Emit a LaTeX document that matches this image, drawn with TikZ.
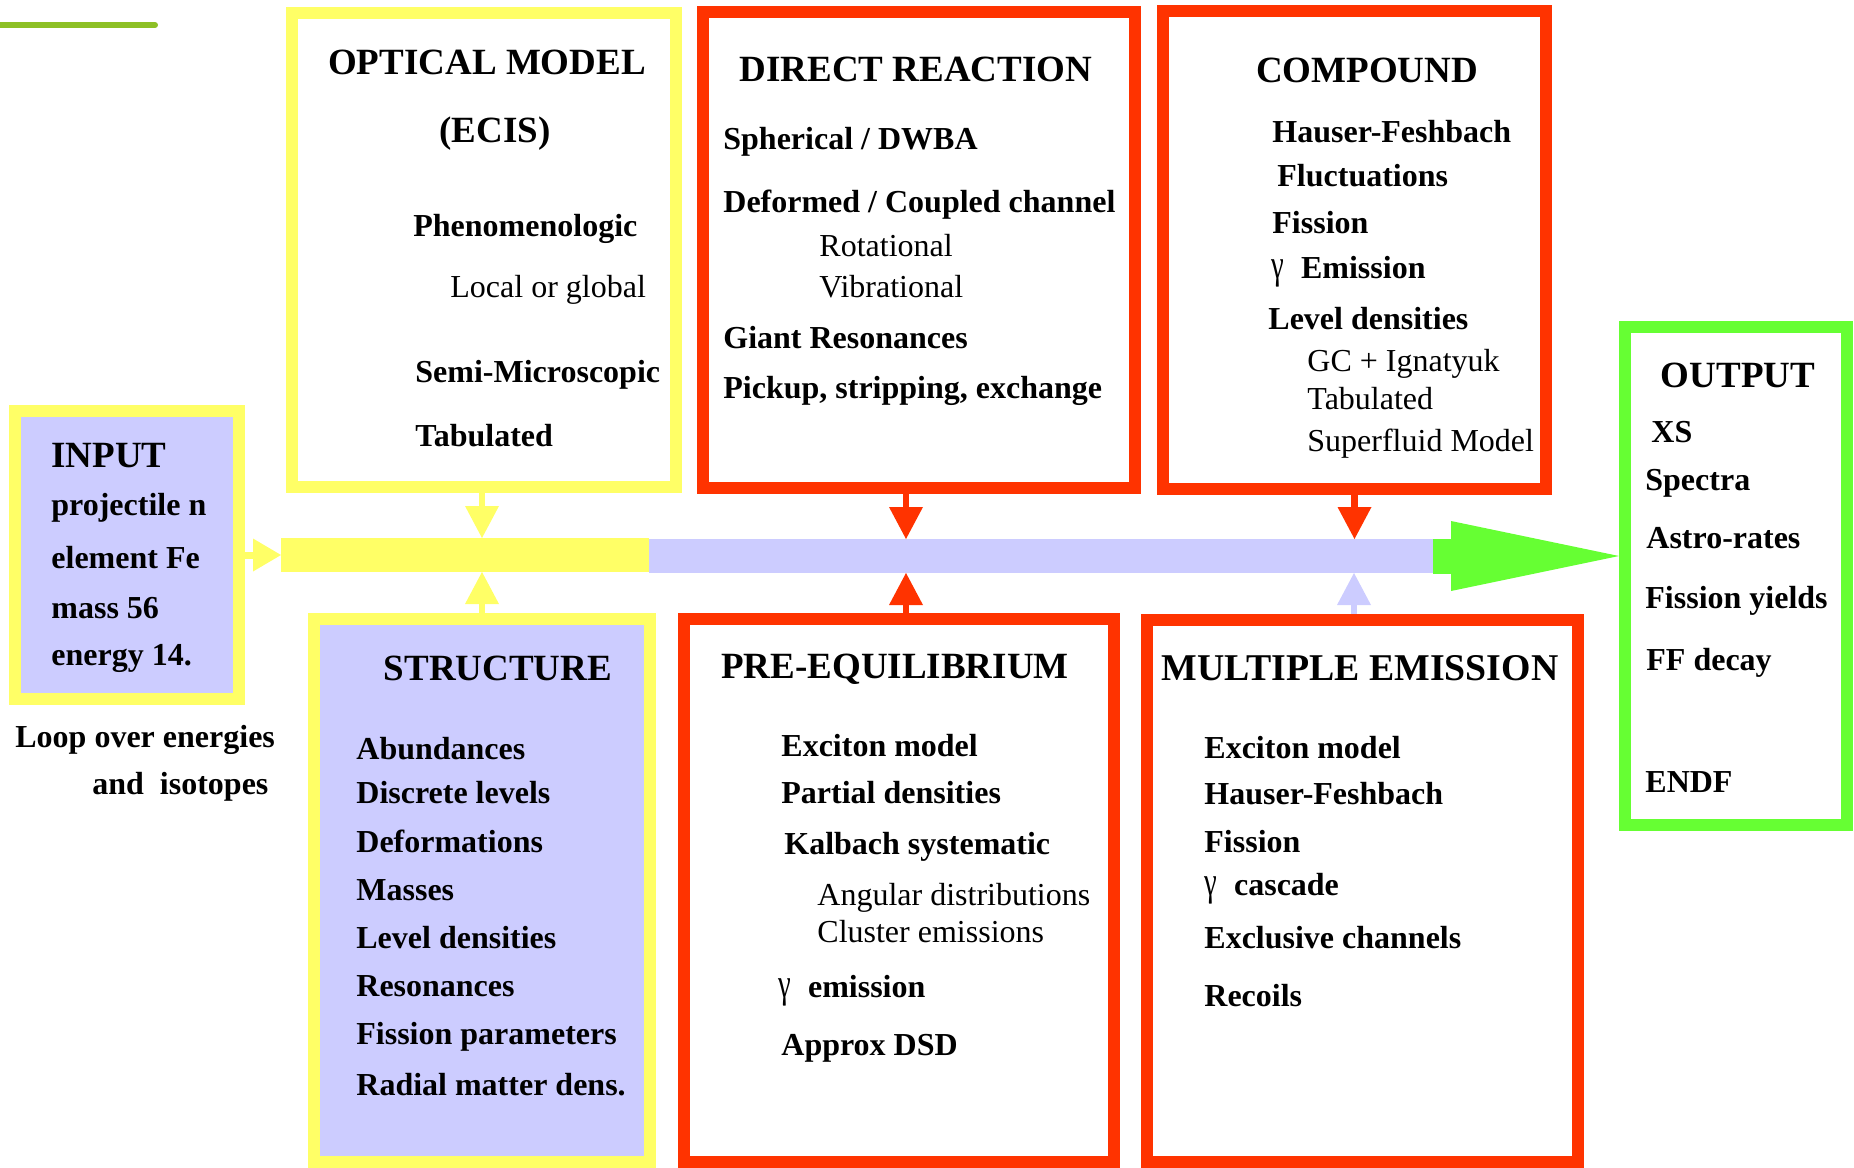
\documentclass[tikz,border=0pt]{standalone}
\usepackage{fontspec}
\usepackage{graphicx}
\setmainfont{Liberation Serif}
\usetikzlibrary{arrows.meta}
\definecolor{cyel}{HTML}{FFFF66}
\definecolor{cred}{HTML}{FF3300}
\definecolor{clav}{HTML}{CCCCFF}
\definecolor{cgrn}{HTML}{66FF33}
\definecolor{colive}{HTML}{8DC026}
\newcommand\mygam{\scalebox{0.7}[1]{\fontsize{20.5}{20}\selectfont\mdseries γ}\hspace{8.5pt}}
\begin{document}
\begin{tikzpicture}[x=0.5pt,y=-0.5pt,
  box/.style={draw, line width=6pt, rectangle, inner sep=0},
  ttl/.style={inner sep=0, anchor=base, font=\fontsize{18.5}{22}\selectfont\bfseries},
  itm/.style={inner sep=0, anchor=base west, font=\fontsize{16}{19}\selectfont\bfseries},
  reg/.style={inner sep=0, anchor=base west, font=\fontsize{16}{19}\selectfont},
  sarr/.style={line width=3.3pt, -{Triangle[length=16pt,width=17pt,line width=0pt]}},
]
\useasboundingbox (0,0) rectangle (1854,1168);
\draw[colive, line width=3pt, line cap=round] (0,25) -- (155,25);

% boxes
\node[box, draw=cyel, minimum width=192pt, minimum height=237pt] (opt) at (484,250) {};
\node[box, draw=cred, minimum width=216pt, minimum height=238pt] (dir) at (919,250) {};
\node[box, draw=cred, minimum width=191.5pt, minimum height=239pt] (cmp) at (1354.5,250) {};
\node[box, draw=cgrn, minimum width=111pt, minimum height=249pt] (out) at (1736,576) {};
\node[box, draw=cyel, fill=clav, minimum width=112pt, minimum height=144pt] (inp) at (127,555) {};
\node[box, draw=cyel, fill=clav, minimum width=168pt, minimum height=271.5pt] (str) at (482,890.5) {};
\node[box, draw=cred, minimum width=215pt, minimum height=271.5pt] (peq) at (899,890.5) {};
\node[box, draw=cred, minimum width=215.5pt, minimum height=271pt] (mul) at (1362.5,891) {};

% main bar
\node[fill=cyel, inner sep=0, outer sep=0, minimum width=184pt, minimum height=17pt] (barA) at (465,555) {};
\node[fill=clav, inner sep=0, outer sep=0, minimum width=392pt, minimum height=17pt] (barB) at (1041,556) {};

% connectors
\coordinate (oA) at ([xshift=-1pt]opt.south);
\coordinate (dA) at ([xshift=-6.5pt]dir.south);
\coordinate (cA) at (cmp.south);
\coordinate (sA) at (str.north);
\coordinate (pA) at ([xshift=3.5pt]peq.north);
\coordinate (mA) at ([xshift=-4.25pt]mul.north);
\draw[sarr, cyel] (oA) -- (oA |- barA.north);
\draw[sarr, cred] (dA) -- (dA |- barB.north);
\draw[sarr, cred] (cA) -- (cA |- barB.north);
\draw[sarr, cyel] (sA) -- (sA |- barA.south);
\draw[sarr, cred] (pA) -- (pA |- barB.south);
\draw[sarr, clav] (mA) -- (mA |- barB.south);
\draw[line width=3.5pt, cyel, -{Triangle[length=14pt,width=16.5pt,line width=0pt]}] (inp.east) -- (inp.east -| barA.west);
\draw[line width=17.5pt, cgrn, -{Triangle[length=84pt,width=35pt,line width=0pt]}] (barB.east) -- (barB.east -| out.west);

% optical model
\node[ttl] (o1) at (487,74) {OPTICAL MODEL};
\node[ttl] (o2) at (495,142) {(ECIS)};
\node[itm] (o3) at (413,236) {Phenomenologic};
\node[reg] (o4) at (450,297) {Local or global};
\node[itm] (o5) at (415,382) {Semi-Microscopic};
\node[itm] (o6) at (415,446) {Tabulated};

% direct reaction
\node[ttl] (d1) at (916,81) {DIRECT REACTION};
\node[itm] (d2) at (723,149) {Spherical / DWBA};
\node[itm] (d3) at (723,212) {Deformed / Coupled channel};
\node[reg] (d4) at (819,256) {Rotational};
\node[reg] (d5) at (819,297) {Vibrational};
\node[itm] (d6) at (723,348) {Giant Resonances};
\node[itm] (d7) at (723,398) {Pickup, stripping, exchange};

% compound
\node[ttl] (c1) at (1367,82) {COMPOUND};
\node[itm] (c2) at (1272,142) {Hauser-Feshbach};
\node[itm] (c3) at (1277,186) {Fluctuations};
\node[itm] (c4) at (1272,233) {Fission};
\node[itm] (c5) at (1271,278) {\mygam Emission};
\node[itm] (c6) at (1268,329) {Level densities};
\node[reg] (c7) at (1307,371) {GC + Ignatyuk};
\node[reg] (c8) at (1307,409) {Tabulated};
\node[reg] (c9) at (1307,451) {Superfluid Model};

% output
\node[ttl] (u1) at (1738,387) {OUTPUT};
\node[itm] (u2) at (1651,442) {XS};
\node[itm] (u3) at (1645,490) {Spectra};
\node[itm] (u4) at (1646,548) {Astro-rates};
\node[itm] (u5) at (1645,608) {Fission yields};
\node[itm] (u6) at (1646,670) {FF decay};
\node[itm] (u7) at (1645,792) {ENDF};

% input
\node[ttl, anchor=base west] (i1) at (51,467) {INPUT};
\node[itm] (i2) at (51,515) {projectile n};
\node[itm] (i3) at (51,568) {element Fe};
\node[itm] (i4) at (51,618) {mass 56};
\node[itm] (i5) at (51,665) {energy 14.};
\node[itm] (i6) at (15,747) {Loop over energies};
\node[itm] (i7) at (92,794) {and\ \ isotopes};

% structure
\node[ttl] (s1) at (498,680) {STRUCTURE};
\node[itm] (s2) at (356,759) {Abundances};
\node[itm] (s3) at (356,803) {Discrete levels};
\node[itm] (s4) at (356,852) {Deformations};
\node[itm] (s5) at (356,900) {Masses};
\node[itm] (s6) at (356,948) {Level densities};
\node[itm] (s7) at (356,996) {Resonances};
\node[itm] (s8) at (356,1044) {Fission parameters};
\node[itm] (s9) at (356,1095) {Radial matter dens.};

% pre-equilibrium
\node[ttl] (p1) at (895,678) {PRE-EQUILIBRIUM};
\node[itm] (p2) at (781,756) {Exciton model};
\node[itm] (p3) at (781,803) {Partial densities};
\node[itm] (p4) at (784,854) {Kalbach systematic};
\node[reg] (p5) at (817,905) {Angular distributions};
\node[reg] (p6) at (817,942) {Cluster emissions};
\node[itm] (p7) at (778,997) {\mygam emission};
\node[itm] (p8) at (781,1055) {Approx DSD};

% multiple emission
\node[ttl, font=\fontsize{18.9}{22}\selectfont\bfseries] (m1) at (1360,680) {MULTIPLE EMISSION};
\node[itm] (m2) at (1204,758) {Exciton model};
\node[itm] (m3) at (1204,804) {Hauser-Feshbach};
\node[itm] (m4) at (1204,852) {Fission};
\node[itm] (m5) at (1204,895) {\mygam cascade};
\node[itm] (m6) at (1204,948) {Exclusive channels};
\node[itm] (m7) at (1204,1006) {Recoils};
\end{tikzpicture}
\end{document}
